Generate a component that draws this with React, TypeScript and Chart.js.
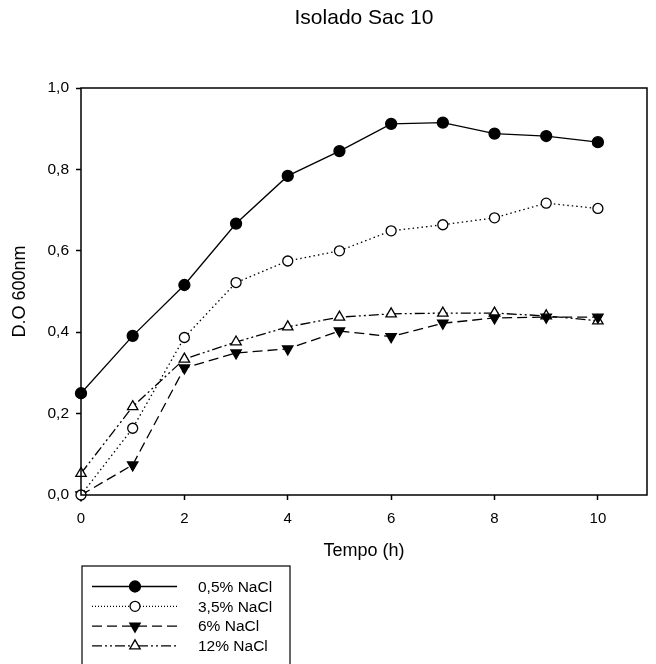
import React, { useEffect, useRef } from "react";
import { Chart, registerables } from "chart.js";

Chart.register(...registerables);

const titleText = "Isolado Sac 10";
const xTitle = "Tempo (h)";
const yTitle = "D.O 600nm";
const hours = [0, 1, 2, 3, 4, 5, 6, 7, 8, 9, 10];
const seriesLabels = ["0,5% NaCl", "3,5% NaCl", "6% NaCl", "12% NaCl"];
const nacl05 = [0.25, 0.391, 0.516, 0.667, 0.784, 0.845, 0.912, 0.915, 0.888, 0.882, 0.867];
const nacl35 = [0.0, 0.164, 0.387, 0.522, 0.575, 0.6, 0.649, 0.664, 0.681, 0.717, 0.704];
const nacl6 = [0.0, 0.074, 0.312, 0.349, 0.359, 0.403, 0.389, 0.422, 0.435, 0.437, 0.437];
const nacl12 = [0.053, 0.217, 0.334, 0.376, 0.413, 0.437, 0.445, 0.447, 0.447, 0.44, 0.428];

const FONT = "'Liberation Sans', Arial, sans-serif";

type Style = {
  dash: number[];
  legendDash: number[];
  shape: "circle" | "triangle";
  rotation: number;
  fill: string;
  radius: number;
};

const styles: Style[] = [
  { dash: [], legendDash: [], shape: "circle", rotation: 0, fill: "#000", radius: 5.5 },
  { dash: [1.5, 3], legendDash: [1, 2], shape: "circle", rotation: 0, fill: "#fff", radius: 5 },
  { dash: [10, 5], legendDash: [10, 5], shape: "triangle", rotation: 180, fill: "#000", radius: 6 },
  { dash: [10, 3, 2, 3, 2, 3], legendDash: [10, 3, 2, 3, 2, 3], shape: "triangle", rotation: 0, fill: "#fff", radius: 6 },
];

const seriesValues = [nacl05, nacl35, nacl6, nacl12];

function drawMarker(ctx: CanvasRenderingContext2D, st: Style, x: number, y: number) {
  ctx.save();
  ctx.setLineDash([]);
  ctx.lineWidth = 1.3;
  ctx.strokeStyle = "#000";
  ctx.fillStyle = st.fill;
  ctx.beginPath();
  if (st.shape === "circle") {
    ctx.arc(x, y, st.radius, 0, Math.PI * 2);
  } else {
    const r = st.radius;
    const s = st.rotation === 180 ? -1 : 1;
    ctx.moveTo(x, y - s * r);
    ctx.lineTo(x + r * 0.866, y + s * r * 0.5);
    ctx.lineTo(x - r * 0.866, y + s * r * 0.5);
    ctx.closePath();
  }
  ctx.fill();
  ctx.stroke();
  ctx.restore();
}

const decorPlugin = {
  id: "decor",
  afterDraw(chart: any) {
    const ctx: CanvasRenderingContext2D = chart.ctx;
    const a = chart.chartArea;
    ctx.save();
    ctx.strokeStyle = "#000";
    ctx.lineWidth = 1.5;
    ctx.strokeRect(a.left, a.top, a.right - a.left, a.bottom - a.top);
    ctx.fillStyle = "#000";
    ctx.font = `21px ${FONT}`;
    ctx.textAlign = "center";
    ctx.textBaseline = "middle";
    ctx.fillText(titleText, (a.left + a.right) / 2, 18);
    ctx.lineWidth = 1.2;
    ctx.strokeRect(82, 566, 208, 110);
    ctx.font = `15.5px ${FONT}`;
    ctx.textAlign = "left";
    chart.data.datasets.forEach((ds: any, i: number) => {
      const st = styles[i];
      const y = 586.5 + i * 19.8;
      ctx.save();
      ctx.lineWidth = 1.3;
      ctx.setLineDash(st.legendDash);
      ctx.beginPath();
      ctx.moveTo(92, y);
      ctx.lineTo(177, y);
      ctx.stroke();
      ctx.restore();
      drawMarker(ctx, st, 135, y);
      ctx.fillStyle = "#000";
      ctx.fillText(ds.label, 198, y + 1);
    });
    ctx.restore();
  },
};

export default function App() {
  const ref = useRef<HTMLCanvasElement | null>(null);
  useEffect(() => {
    if (!ref.current) return;
    const datasets = seriesValues.map((vals, i) => {
      const st = styles[i];
      return {
        label: seriesLabels[i],
        data: hours.map((h, j) => ({ x: h, y: vals[j] })),
        borderColor: "#000",
        borderWidth: 1.3,
        borderDash: st.dash,
        pointStyle: st.shape,
        pointRotation: st.rotation,
        pointRadius: st.radius,
        pointBackgroundColor: st.fill,
        pointBorderColor: "#000",
        pointBorderWidth: 1.3,
        tension: 0,
        fill: false,
        clip: false as any,
      };
    });
    const chart = new Chart(ref.current, {
      type: "line",
      data: { datasets },
      options: {
        animation: false,
        responsive: false,
        layout: { padding: { left: 0, top: 88, right: 9, bottom: 98 } },
        plugins: { legend: { display: false }, title: { display: false }, tooltip: { enabled: false } },
        scales: {
          x: {
            type: "linear",
            min: 0,
            max: 10.95,
            afterFit: (s: any) => {
              s.height = 71;
            },
            border: { display: false },
            grid: { display: true, drawOnChartArea: false, drawTicks: true, tickLength: 5, tickColor: "#000", tickWidth: 1.5 },
            ticks: {
              stepSize: 2,
              includeBounds: false,
              color: "#000",
              font: { family: FONT, size: 15 },
              padding: 10,
              maxRotation: 0,
            },
            title: {
              display: true,
              text: xTitle,
              color: "#000",
              font: { family: FONT, size: 18 },
              padding: { top: 4, bottom: 4 },
            },
          },
          y: {
            type: "linear",
            min: 0,
            max: 1,
            afterFit: (s: any) => {
              s.width = 81;
            },
            border: { display: false },
            grid: { display: true, drawOnChartArea: false, drawTicks: true, tickLength: 5, tickColor: "#000", tickWidth: 1.5 },
            ticks: {
              stepSize: 0.2,
              color: "#000",
              font: { family: FONT, size: 15.5 },
              padding: 7,
              callback: (v: any) => Number(v).toFixed(1).replace(".", ","),
            },
            title: {
              display: true,
              text: yTitle,
              color: "#000",
              font: { family: FONT, size: 18 },
              padding: { top: 9, bottom: 4 },
            },
          },
        },
      },
      plugins: [decorPlugin],
    });
    return () => chart.destroy();
  }, []);
  return (
    <div style={{ position: "absolute", left: 0, top: 0, width: 656, height: 664, background: "#fff" }}>
      <canvas ref={ref} width={656} height={664} style={{ display: "block" }} />
    </div>
  );
}
